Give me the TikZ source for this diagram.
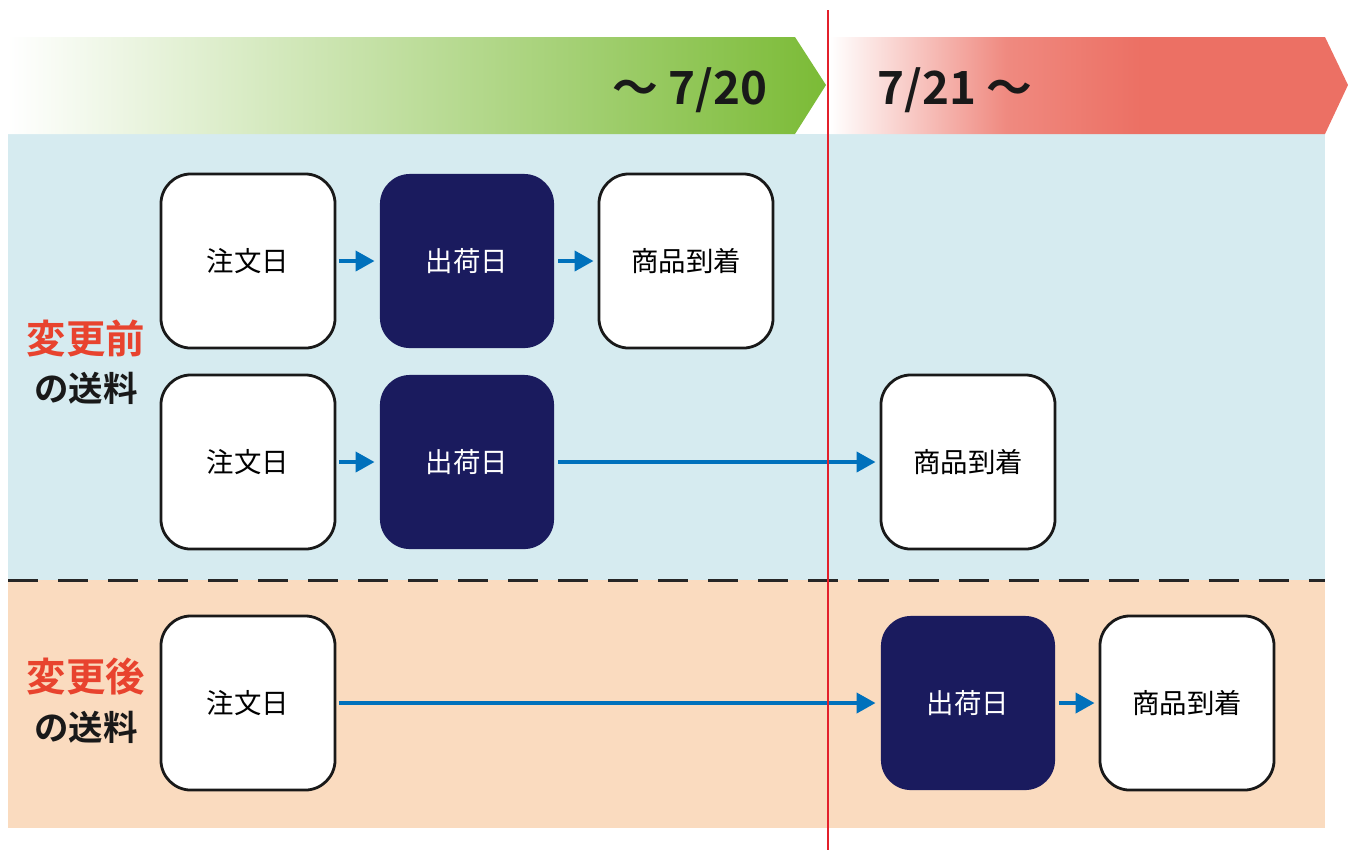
\documentclass[tikz,border=0pt]{standalone}
\usepackage{fontspec}
\setmainfont{Noto Sans CJK JP}[BoldFont={Noto Sans CJK JP Bold}]
\usetikzlibrary{arrows.meta}
\definecolor{bgblue}{HTML}{D6EBF0}
\definecolor{bgpeach}{HTML}{FADBBF}
\definecolor{navy}{HTML}{1A1B5E}
\definecolor{flowblue}{HTML}{0071BC}
\definecolor{lineRed}{HTML}{E3202B}
\definecolor{labelRed}{HTML}{E8432E}
\definecolor{bandGreen}{HTML}{7BBB36}
\definecolor{bandRed}{HTML}{EC7064}
\pgfdeclarehorizontalshading{redband}{100bp}{color(0bp)=(white); color(25bp)=(white);
  color(42bp)=(bandRed!82); color(55bp)=(bandRed); color(100bp)=(bandRed)}
\tikzset{
  daybox/.style={draw=black!90, line width=0.028cm, fill=white, rounded corners=0.3cm,
    minimum size=1.74cm, inner sep=0pt, font=\fontsize{7.8pt}{9pt}\selectfont},
  shipbox/.style={daybox, draw=none, fill=navy, text=white},
  flow/.style={-{Triangle[length=0.19cm,width=0.2cm]}, flowblue, line width=0.04cm,
    shorten <=0.03cm, shorten >=0.04cm},
  period/.style={font=\bfseries\fontsize{13pt}{15pt}\selectfont, text=black!90},
}
\begin{document}
\begin{tikzpicture}[x=0.01cm, y=-0.01cm]
\useasboundingbox (0,0) rectangle (1348,850);
% backgrounds
\fill[bgblue] (8,134) rectangle (1325,580);
\fill[bgpeach] (8,580) rectangle (1325,828);
\draw[black!85, line width=0.03cm, dash pattern=on 0.3cm off 0.2cm] (8,580) -- (1325,580);
% period bands
\shade[left color=white, right color=bandGreen] (8,37) -- (795,37) -- (826,85) -- (795,134) -- (8,134) -- cycle;
\shade[shading=redband] (830,37) -- (1325,37) -- (1348,85) -- (1325,134) -- (830,134) -- cycle;
\node[period] (till) at (690,90) {〜 7/20};
\node[period] (from) at (955,90) {7/21 〜};
% row labels
\node[font=\bfseries\fontsize{11.2pt}{13pt}\selectfont, text=labelRed] (before) at (86,338) {変更前};
\node[font=\bfseries\fontsize{9.8pt}{11pt}\selectfont, text=black!90] (beforeFee) at (86,388) {の送料};
\node[font=\bfseries\fontsize{11.2pt}{13pt}\selectfont, text=labelRed] (after) at (86,677) {変更後};
\node[font=\bfseries\fontsize{9.8pt}{11pt}\selectfont, text=black!90] (afterFee) at (86,727) {の送料};
% row 1
\node[daybox] (order1) at (248,261) {注文日};
\node[shipbox] (ship1) at (467,261) {出荷日};
\node[daybox] (arrive1) at (686,261) {商品到着};
\draw[flow] (order1) -- (ship1);
\draw[flow] (ship1) -- (arrive1);
% row 2
\node[daybox] (order2) at (248,462) {注文日};
\node[shipbox] (ship2) at (467,462) {出荷日};
\node[daybox] (arrive2) at (968,462) {商品到着};
\draw[flow] (order2) -- (ship2);
\draw[flow] (ship2) -- (arrive2);
% row 3
\node[daybox] (order3) at (248,703) {注文日};
\node[shipbox] (ship3) at (968,703) {出荷日};
\node[daybox] (arrive3) at (1187,703) {商品到着};
\draw[flow] (order3) -- (ship3);
\draw[flow] (ship3) -- (arrive3);
% date line
\coordinate (lineTop) at (828,10);
\coordinate (lineEnd) at (828,850);
\draw[lineRed, line width=0.025cm] (lineTop) -- (lineEnd);
\end{tikzpicture}
\end{document}
